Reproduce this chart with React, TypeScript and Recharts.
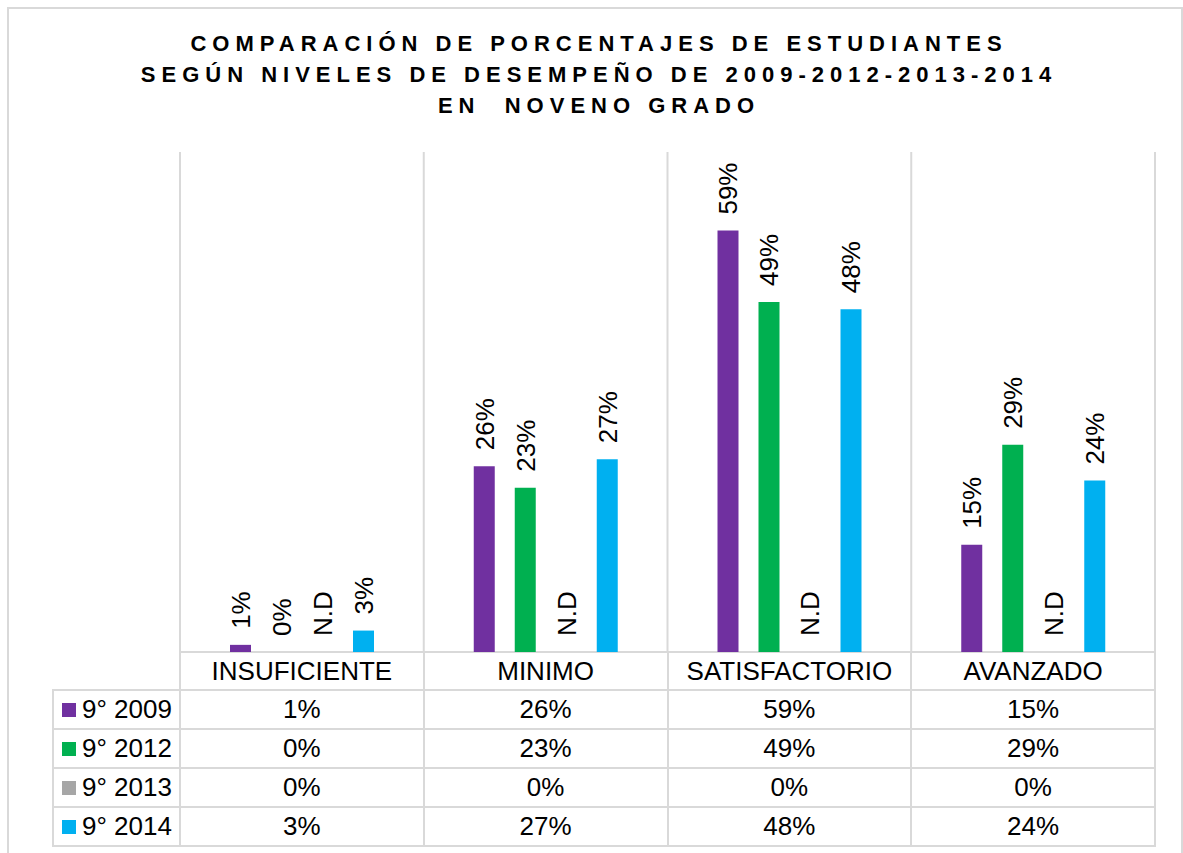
import React from 'react';
import { BarChart, Bar, XAxis, YAxis, CartesianGrid } from 'recharts';

// Data
const categories = ['INSUFICIENTE', 'MINIMO', 'SATISFACTORIO', 'AVANZADO'];
const values2009 = [1, 26, 59, 15];
const values2012 = [0, 23, 49, 29];
const values2013 = [0, 0, 0, 0];
const values2014 = [3, 27, 48, 24];
const seriesNames = ['9° 2009', '9° 2012', '9° 2013', '9° 2014'];
const seriesKeys = ['y2009', 'y2012', 'y2013', 'y2014'];
const seriesColors = ['#7030A0', '#00B050', '#A6A6A6', '#00B0F0'];
const titleLines = [
  'COMPARACIÓN DE PORCENTAJES DE ESTUDIANTES',
  'SEGÚN NIVELES DE DESEMPEÑO DE 2009-2012-2013-2014',
  'EN  NOVENO GRADO',
];

const seriesValues = [values2009, values2012, values2013, values2014];

const chartData = categories.map((name, i) => ({
  name,
  slot: i + 0.5,
  y2009: values2009[i],
  y2012: values2012[i],
  y2013: values2013[i],
  y2014: values2014[i],
}));

const FONT = '"Liberation Sans", Arial, sans-serif';
const LINE = '#d9d9d9';

const makeLabel = (noData: boolean) => (props: any) => {
  const { x, y, width, value } = props;
  const cx = Number(x) + Number(width) / 2;
  const ty = Number(y) - 16;
  const text = noData ? 'N.D' : `${value}%`;
  return (
    <text
      x={cx}
      y={ty}
      dy="0.36em"
      transform={`rotate(-90 ${cx} ${ty})`}
      textAnchor="start"
      fontSize={26}
      fontFamily={FONT}
      fill="#000"
    >
      {text}
    </text>
  );
};

// zero-value bars keep a hairline so their labels still get drawn
const zeroKeep = (v: any) => (Number(v) === 0 ? 0.01 : 0);

export default function App() {
  return (
    <div style={{ position: 'absolute', left: 0, top: 0, width: 1183, height: 853, overflow: 'hidden', background: '#fff', fontFamily: FONT }}>
      {/* outer frame */}
      <div style={{ position: 'absolute', left: 7, top: 7, width: 1176, height: 900, border: `2px solid ${LINE}`, boxSizing: 'border-box' }} />

      {/* title */}
      <div style={{ position: 'absolute', left: 0, top: 28, width: 1183, paddingLeft: 15, boxSizing: 'border-box', textAlign: 'center' }}>
        {titleLines.map((t) => (
          <div key={t} style={{ fontSize: 22, fontWeight: 'bold', letterSpacing: 6, lineHeight: '31px', whiteSpace: 'pre', color: '#000' }}>
            {t}
          </div>
        ))}
      </div>

      {/* header row frame under the category labels */}
      <div
        style={{
          position: 'absolute', left: 179, top: 651, padding: 2, background: LINE,
          display: 'grid', gridTemplateColumns: 'repeat(4, 241.75px)', gridTemplateRows: '36px', gap: 2,
        }}
      >
        {categories.map((c) => (
          <div key={c} style={{ background: '#fff' }} />
        ))}
      </div>

      {/* data table */}
      <div
        style={{
          position: 'absolute', left: 52, top: 689, padding: 2, background: LINE,
          display: 'grid', gridTemplateColumns: '125px repeat(4, 241.75px)', gridTemplateRows: 'repeat(4, 37px)', gap: 2,
        }}
      >
        {seriesNames.map((s, si) => (
          <React.Fragment key={s}>
            <div style={{ background: '#fff', display: 'flex', alignItems: 'center', fontSize: 26, color: '#000' }}>
              <span style={{ display: 'inline-block', width: 14, height: 14, background: seriesColors[si], marginLeft: 8, marginRight: 6 }} />
              {s}
            </div>
            {categories.map((c, ci) => (
              <div key={c} style={{ background: '#fff', display: 'flex', alignItems: 'center', justifyContent: 'center', fontSize: 26, color: '#000' }}>
                {seriesValues[si][ci]}%
              </div>
            ))}
          </React.Fragment>
        ))}
      </div>

      {/* chart */}
      <div style={{ position: 'absolute', left: 0, top: 0 }}>
        <BarChart
          width={1183}
          height={853}
          data={chartData}
          margin={{ top: 152, right: 28, bottom: 163, left: 180 }}
          barSize={21}
          barGap={20}
        >
          <CartesianGrid xAxisId="grid" horizontal={false} stroke={LINE} strokeWidth={2} />
          <XAxis
            dataKey="name"
            height={38}
            tickLine={false}
            axisLine={false}
            tickSize={0}
            tickMargin={10}
            interval={0}
            tick={{ fontSize: 26, fill: '#000', fontFamily: FONT }}
          />
          <XAxis xAxisId="grid" type="number" dataKey="slot" domain={[0, 4]} ticks={[0, 1, 2, 3, 4]} hide />
          <YAxis domain={[0, 70]} hide />
          {seriesKeys.map((k, i) => (
            <Bar
              key={k}
              dataKey={k}
              name={seriesNames[i]}
              fill={seriesColors[i]}
              isAnimationActive={false}
              minPointSize={zeroKeep as any}
              label={makeLabel(k === 'y2013')}
            />
          ))}
        </BarChart>
      </div>
    </div>
  );
}
